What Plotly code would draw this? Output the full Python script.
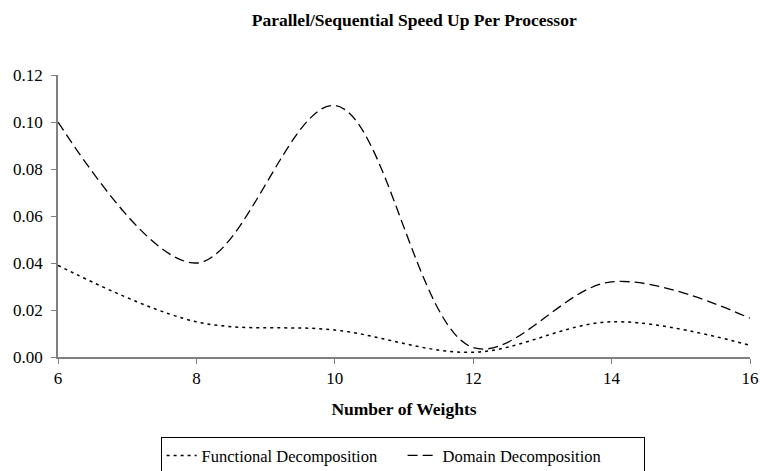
import plotly.graph_objects as go

weights = [6, 8, 10, 12, 14, 16]
functional = [0.039, 0.015, 0.0115, 0.002, 0.015, 0.005]
domain = [0.100, 0.040, 0.107, 0.004, 0.032, 0.0165]

font = "Times New Roman, Liberation Serif, Tinos, serif"

fig = go.Figure()
fig.add_trace(go.Scatter(x=weights, y=functional, mode="lines", name="Functional Decomposition",
                         line=dict(color="black", width=1.5, dash="3px,4px", shape="spline", smoothing=1.0)))
fig.add_trace(go.Scatter(x=weights, y=domain, mode="lines", name="Domain Decomposition",
                         line=dict(color="black", width=1.3, dash="10px,5px", shape="spline", smoothing=1.0)))

fig.update_layout(
    width=760, height=471,
    margin=dict(l=58, r=10, t=75, b=114, autoexpand=False),
    paper_bgcolor="white", plot_bgcolor="white",
    font=dict(family=font, size=17, color="black"),
    title=dict(text="<b>Parallel/Sequential Speed Up Per Processor</b>", x=0.545, xanchor="center",
               y=0.957, yanchor="middle", font=dict(family=font, size=17.5)),
    showlegend=True,
    legend=dict(orientation="h", x=0.498, xanchor="center", y=-0.35, yanchor="middle",
                bordercolor="black", borderwidth=1, font=dict(family=font, size=16.5),
                tracegroupgap=0, itemwidth=30, entrywidth=196, entrywidthmode="pixels"),
)
fig.update_xaxes(range=[6, 16], tickvals=[6, 8, 10, 12, 14, 16], showgrid=False, zeroline=False,
                 showline=True, linecolor="#808080", linewidth=1.5, ticks="outside", ticklen=5,
                 tickcolor="#808080", tickfont=dict(family=font, size=17),
                 title=dict(text="<b>Number of Weights</b>", standoff=16, font=dict(family=font, size=17.5)))
fig.update_yaxes(range=[0, 0.12], tickvals=[0, 0.02, 0.04, 0.06, 0.08, 0.10, 0.12], tickformat=".2f",
                 showgrid=False, zeroline=False, showline=True, linecolor="#808080", linewidth=1.5,
                 ticks="outside", ticklen=5, tickcolor="#808080", tickfont=dict(family=font, size=17),
                 ticklabelstandoff=5)

fig.write_html("out.html")
